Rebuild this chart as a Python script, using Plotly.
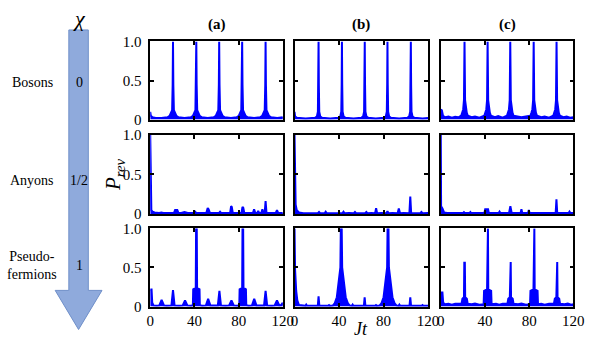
import plotly.graph_objects as go
from plotly.subplots import make_subplots

# (Jt, P_rev) envelope points; row 1 = bosons, row 2 = anyons, row 3 = pseudo-fermions
a1 = [(0, 0.1), (0.5, 0.05), (2, 0.03), (5, 0.02), (10, 0.02),
      (15.6, 0.03), (17.6, 0.05), (19.8, 0.12), (20.3, 0.45), (20.6, 1.0), (20.9, 0.45), (21.4, 0.12), (23.6, 0.05), (25.6, 0.03), (31, 0.02),
      (36.7, 0.03), (38.7, 0.05), (40.9, 0.12), (41.4, 0.45), (41.7, 1.0), (42.0, 0.45), (42.5, 0.12), (44.7, 0.05), (46.7, 0.03), (52, 0.02),
      (57.4, 0.03), (59.4, 0.05), (61.6, 0.12), (62.1, 0.45), (62.4, 1.0), (62.7, 0.45), (63.2, 0.12), (65.4, 0.05), (67.4, 0.03), (73, 0.02),
      (78.2, 0.03), (80.2, 0.05), (82.4, 0.12), (82.9, 0.45), (83.2, 1.0), (83.5, 0.45), (84.0, 0.12), (86.2, 0.05), (88.2, 0.03), (94, 0.02),
      (99.4, 0.03), (101.4, 0.05), (103.6, 0.12), (104.1, 0.45), (104.4, 1.0), (104.7, 0.45), (105.2, 0.12), (107.4, 0.05), (109.4, 0.03), (115, 0.02),
      (120, 0.03)]
b1 = [(0, 0.1), (0.5, 0.04), (2, 0.025), (5, 0.02), (10, 0.015),
      (18.6, 0.025), (20.1, 0.04), (21.0, 0.1), (21.35, 0.45), (21.6, 1.0), (21.85, 0.45), (22.2, 0.1), (23.1, 0.04), (24.6, 0.025), (32, 0.015),
      (39.6, 0.025), (41.1, 0.04), (42.0, 0.1), (42.35, 0.45), (42.6, 1.0), (42.85, 0.45), (43.2, 0.1), (44.1, 0.04), (45.6, 0.025), (53, 0.015),
      (60.1, 0.025), (61.6, 0.04), (62.5, 0.1), (62.85, 0.45), (63.1, 1.0), (63.35, 0.45), (63.7, 0.1), (64.6, 0.04), (66.1, 0.025), (73, 0.015),
      (80.5, 0.025), (82.0, 0.04), (82.9, 0.1), (83.25, 0.45), (83.5, 1.0), (83.75, 0.45), (84.1, 0.1), (85.0, 0.04), (86.5, 0.025), (94, 0.015),
      (101.5, 0.025), (103.0, 0.04), (103.9, 0.1), (104.25, 0.45), (104.5, 1.0), (104.75, 0.45), (105.1, 0.1), (106.0, 0.04), (107.5, 0.025), (115, 0.015),
      (120, 0.02)]
c1 = [(0, 0.13), (1, 0.12), (2, 0.05), (4, 0.03), (7, 0.04), (10, 0.025), (13, 0.035), (16, 0.03),
      (18.5, 0.05), (19.5, 0.09), (20.3, 0.13), (21.0, 0.25), (21.5, 1.0), (22.0, 0.25), (22.7, 0.13), (23.5, 0.09), (24.5, 0.05),
      (28, 0.03), (31, 0.04), (35, 0.025),
      (39.4, 0.05), (40.4, 0.09), (41.2, 0.13), (41.9, 0.25), (42.4, 1.0), (42.9, 0.25), (43.6, 0.13), (44.4, 0.09), (45.4, 0.05),
      (49, 0.03), (52, 0.045), (56, 0.025),
      (59.9, 0.05), (60.9, 0.09), (61.7, 0.13), (62.4, 0.25), (62.9, 1.0), (63.4, 0.25), (64.1, 0.13), (64.9, 0.09), (65.9, 0.05),
      (70, 0.035), (73, 0.03), (77, 0.04),
      (81.1, 0.05), (82.1, 0.09), (82.9, 0.13), (83.6, 0.25), (84.1, 1.0), (84.6, 0.25), (85.3, 0.13), (86.1, 0.09), (87.1, 0.05),
      (91, 0.03), (94, 0.04), (98, 0.025),
      (101.8, 0.05), (102.8, 0.09), (103.6, 0.13), (104.3, 0.25), (104.8, 1.0), (105.3, 0.25), (106.0, 0.13), (106.8, 0.09), (107.8, 0.05),
      (111, 0.03), (114, 0.04), (117, 0.025), (120, 0.03)]

a2 = [(0, 1.0), (0.3, 0.12), (1, 0.05), (2, 0.03), (4, 0.02), (8, 0.015), (10, 0.02), (12, 0.015), (16, 0.015),
      (21.5, 0.015), (22.5, 0.05), (24.5, 0.05), (25.5, 0.015), (28, 0.015), (31, 0.025), (34, 0.015),
      (39.5, 0.015), (40.6, 0.03), (41.7, 0.015), (46, 0.015), (50.8, 0.015), (52.0, 0.075), (52.8, 0.06), (54, 0.015),
      (58, 0.015), (62.3, 0.015), (63.2, 0.03), (64.1, 0.015), (68, 0.015), (72.3, 0.015), (73.2, 0.1), (73.8, 0.09), (74.7, 0.015),
      (78, 0.015), (82.6, 0.015), (83.5, 0.09), (84.2, 0.08), (85.1, 0.015), (89, 0.015), (93.0, 0.015), (94.0, 0.06), (95.0, 0.015),
      (96.8, 0.015), (97.7, 0.04), (98.6, 0.015), (100.6, 0.015), (101.5, 0.06), (102.4, 0.015), (103.6, 0.015), (104.4, 0.165), (105.2, 0.015),
      (108, 0.015), (113.6, 0.015), (114.7, 0.05), (115.8, 0.015), (118, 0.015), (120, 0.015)]
b2 = [(0, 1.0), (0.3, 0.25), (1, 0.12), (2, 0.05), (4, 0.02), (8, 0.01), (12, 0.012), (16, 0.01),
      (21, 0.01), (22, 0.025), (23, 0.01), (27, 0.01), (28, 0.03), (29, 0.01), (34, 0.012), (38, 0.01),
      (43, 0.01), (44, 0.03), (45, 0.01), (49, 0.012), (53.3, 0.01), (54.3, 0.025), (55.3, 0.01), (59, 0.01),
      (63.5, 0.01), (64.5, 0.025), (65.5, 0.01), (69, 0.012), (72.4, 0.01), (73.3, 0.075), (74.2, 0.01), (78, 0.015),
      (82.6, 0.01), (83.5, 0.035), (84.4, 0.01), (88, 0.012), (92.6, 0.01), (93.7, 0.07), (94.8, 0.01), (98, 0.015),
      (103.2, 0.01), (104, 0.22), (104.8, 0.01), (109, 0.01), (113, 0.01), (114, 0.025), (115, 0.01), (120, 0.012)]
c2 = [(0, 1.0), (0.3, 0.1), (1.5, 0.07), (3, 0.02), (6, 0.015), (10, 0.012), (15, 0.015), (20, 0.012),
      (21, 0.025), (22, 0.012), (26, 0.012), (26.8, 0.025), (27.6, 0.012), (32, 0.015), (36, 0.012),
      (39.5, 0.015), (40.2, 0.06), (42.8, 0.06), (43.5, 0.015), (48, 0.012), (52.4, 0.012), (53.2, 0.03), (54, 0.012),
      (58, 0.015), (61.8, 0.015), (63, 0.1), (64.2, 0.015), (68, 0.012), (72.2, 0.012), (73, 0.06), (73.8, 0.012),
      (79, 0.012), (79.7, 0.05), (80.4, 0.012), (85, 0.015), (89, 0.012), (93.6, 0.012), (94.4, 0.02), (95.2, 0.012),
      (100, 0.015), (104.0, 0.012), (104.7, 0.185), (105.4, 0.012), (110, 0.012), (115.7, 0.012), (116.5, 0.03), (117.3, 0.012),
      (120, 0.015)]

a3 = [(0, 0.22), (1.2, 0.22), (1.8, 0.05), (3, 0.015), (6, 0.01), (8.2, 0.015), (10.3, 0.085), (12.4, 0.015), (15, 0.01),
      (19.2, 0.015), (20.6, 0.21), (22.0, 0.015), (26, 0.01), (29.4, 0.015), (31.5, 0.08), (33.6, 0.015), (37, 0.01),
      (38.6, 0.02), (38.9, 0.22), (41.2, 0.24), (41.5, 1.0), (42.1, 1.0), (42.4, 0.24), (44.6, 0.22), (44.9, 0.02),
      (47, 0.01), (50.4, 0.015), (52.4, 0.1), (54.4, 0.015), (58, 0.01), (61.2, 0.015), (62.6, 0.2), (64.0, 0.015),
      (68, 0.01), (71.4, 0.015), (73.5, 0.08), (75.6, 0.015), (79, 0.01),
      (80.6, 0.02), (80.9, 0.22), (83.2, 0.24), (83.5, 1.0), (84.1, 1.0), (84.4, 0.24), (86.6, 0.22), (86.9, 0.02),
      (89, 0.01), (92.1, 0.015), (94.1, 0.1), (96.1, 0.015), (100, 0.01), (103.0, 0.015), (104.4, 0.2), (105.8, 0.015),
      (110, 0.01), (112.6, 0.015), (114.7, 0.08), (116.8, 0.015), (118.5, 0.02), (120, 0.05)]
b3 = [(0, 1.0), (0.5, 0.47), (1.5, 0.2), (2.5, 0.08), (4, 0.02), (7, 0.01), (9.8, 0.01), (10.5, 0.025), (11.2, 0.01),
      (15, 0.01), (20.9, 0.01), (21.6, 0.13), (22.3, 0.01), (26, 0.01), (30.3, 0.01), (31, 0.02), (31.7, 0.01),
      (34.5, 0.015), (36, 0.04), (38, 0.12), (39.8, 0.35), (41.2, 0.5), (41.6, 1.0), (42.4, 1.0), (42.8, 0.5),
      (44.2, 0.32), (46, 0.12), (48, 0.04), (49.5, 0.015), (51.5, 0.01), (52.2, 0.025), (52.9, 0.01),
      (57, 0.01), (62.3, 0.01), (63, 0.12), (63.7, 0.01), (68, 0.01), (72.5, 0.01), (73.2, 0.02), (73.9, 0.01),
      (76.5, 0.015), (78, 0.04), (80, 0.12), (81.8, 0.35), (83.2, 0.5), (83.6, 1.0), (84.4, 1.0), (84.8, 0.5),
      (86.2, 0.32), (88, 0.12), (90, 0.04), (91.5, 0.015), (93.5, 0.01), (94.2, 0.025), (94.9, 0.01),
      (99, 0.01), (103.3, 0.01), (104, 0.12), (104.7, 0.01), (109, 0.01), (114.3, 0.01), (115, 0.02), (115.7, 0.01),
      (120, 0.012)]
c3 = [(0, 0.18), (1.5, 0.18), (2.2, 0.05), (4, 0.03), (7, 0.035), (10, 0.025), (13, 0.035), (16, 0.03),
      (18.8, 0.035), (19.6, 0.1), (21.0, 0.12), (21.3, 0.56), (21.8, 0.56), (22.1, 0.12), (23.6, 0.1), (24.4, 0.035),
      (28, 0.03), (31, 0.04), (35, 0.025),
      (38.8, 0.03), (39.2, 0.2), (41.9, 0.22), (42.2, 1.0), (42.7, 1.0), (43.0, 0.22), (45.6, 0.2), (46.0, 0.03),
      (50, 0.035), (53, 0.025), (56, 0.035),
      (60.3, 0.035), (61.1, 0.1), (62.5, 0.12), (62.8, 0.57), (63.3, 0.57), (63.6, 0.12), (65.1, 0.1), (65.9, 0.035),
      (70, 0.03), (73, 0.04), (77, 0.025),
      (80.8, 0.03), (81.2, 0.2), (83.9, 0.22), (84.2, 1.0), (84.7, 1.0), (85.0, 0.22), (87.6, 0.2), (88.0, 0.03),
      (91, 0.035), (94, 0.025), (98, 0.035),
      (102.4, 0.035), (103.2, 0.1), (104.6, 0.12), (104.9, 0.57), (105.4, 0.57), (105.7, 0.12), (107.2, 0.1), (108.0, 0.035),
      (112, 0.03), (115, 0.04), (118, 0.025), (120, 0.03)]

panels = [[a1, b1, c1], [a2, b2, c2], [a3, b3, c3]]
col_titles = ["(a)", "(b)", "(c)"]
row_names = ["Bosons", "Anyons", "Pseudo-<br>fermions"]
chi_values = ["0", "1/2", "1"]
x_ticks = [0, 40, 80, 120]
y_ticks = [0, 0.5, 1.0]
y_ticktext = ["0", "0.5", "1.0"]

W, H = 598, 348
fig = make_subplots(rows=3, cols=3)

# panel boxes in pixels (left, right) and (top, bottom)
xdom_px = [(150, 286), (298, 435), (448, 584)]
ydom_px = [(35, 117), (133, 216), (231, 313)]

for r in range(3):
    for c in range(3):
        pts = panels[r][c]
        fig.add_trace(go.Scatter(
            x=[p[0] for p in pts], y=[p[1] for p in pts],
            mode="lines", line=dict(color="#0000ff", width=2),
            fill="tozeroy", fillcolor="#0000ff", showlegend=False,
            hoverinfo="skip"), row=r + 1, col=c + 1)
        fig.update_xaxes(domain=[xdom_px[c][0] / W, xdom_px[c][1] / W],
                         range=[0, 120], tickvals=x_ticks,
                         showticklabels=(r == 2), row=r + 1, col=c + 1)
        fig.update_yaxes(domain=[1 - ydom_px[r][1] / H, 1 - ydom_px[r][0] / H],
                         range=[0, 1.0], tickvals=y_ticks, ticktext=y_ticktext,
                         showticklabels=(c == 0), row=r + 1, col=c + 1)

fig.update_xaxes(showgrid=False, zeroline=False, showline=True, mirror="ticks",
                 linecolor="black", linewidth=1.5, ticks="inside", ticklen=4,
                 tickwidth=1.5, tickcolor="black", tickfont=dict(size=15))
fig.update_yaxes(showgrid=False, zeroline=False, showline=True, mirror="ticks",
                 linecolor="black", linewidth=1.5, ticks="inside", ticklen=4,
                 tickwidth=1.5, tickcolor="black", ticklabelstandoff=4, tickfont=dict(size=15))

ann = []
for c in range(3):
    ann.append(dict(text="<b>" + col_titles[c] + "</b>", x=(xdom_px[c][0] + xdom_px[c][1]) / 2 / W,
                    y=1 - 17 / H, font=dict(size=15)))
row_y = [78, 181, 270]
for r in range(3):
    ann.append(dict(text=row_names[r], x=29 / W, y=1 - row_y[r] / H, font=dict(size=14)))
    ann.append(dict(text=chi_values[r], x=77 / W, y=1 - row_y[r] / H, font=dict(size=14)))
ann.append(dict(text="<i>χ</i>", x=77 / W, y=1 - 11 / H, font=dict(size=22)))
ann.append(dict(text="<i>P<sub>rev</sub></i>", x=113 / W, y=1 - 175 / H, textangle=-90, font=dict(size=21)))
ann.append(dict(text="<i>Jt</i>", x=366 / W, y=1 - 336 / H, font=dict(size=18)))
for a in ann:
    a.update(xref="paper", yref="paper", showarrow=False, xanchor="center", yanchor="middle")

# the big chi arrow on the left
arrow = [(66.5, 23), (86.5, 23), (86.5, 296), (100.5, 296), (76.5, 337), (52.5, 296), (66.5, 296)]
path = "M " + " L ".join(f"{x / W:.4f},{1 - y / H:.4f}" for x, y in arrow) + " Z"

fig.update_layout(
    width=W, height=H, margin=dict(l=0, r=0, t=0, b=0),
    plot_bgcolor="white", paper_bgcolor="white",
    font=dict(family="Liberation Serif, Times New Roman, serif", size=14, color="black"),
    annotations=ann,
    shapes=[dict(type="path", path=path, xref="paper", yref="paper",
                 fillcolor="#8faadc", line=dict(color="#6f8fc9", width=1), layer="below")],
)

fig.write_html("out.html", config={"displayModeBar": False},
               post_script="document.body.style.margin='0';")
